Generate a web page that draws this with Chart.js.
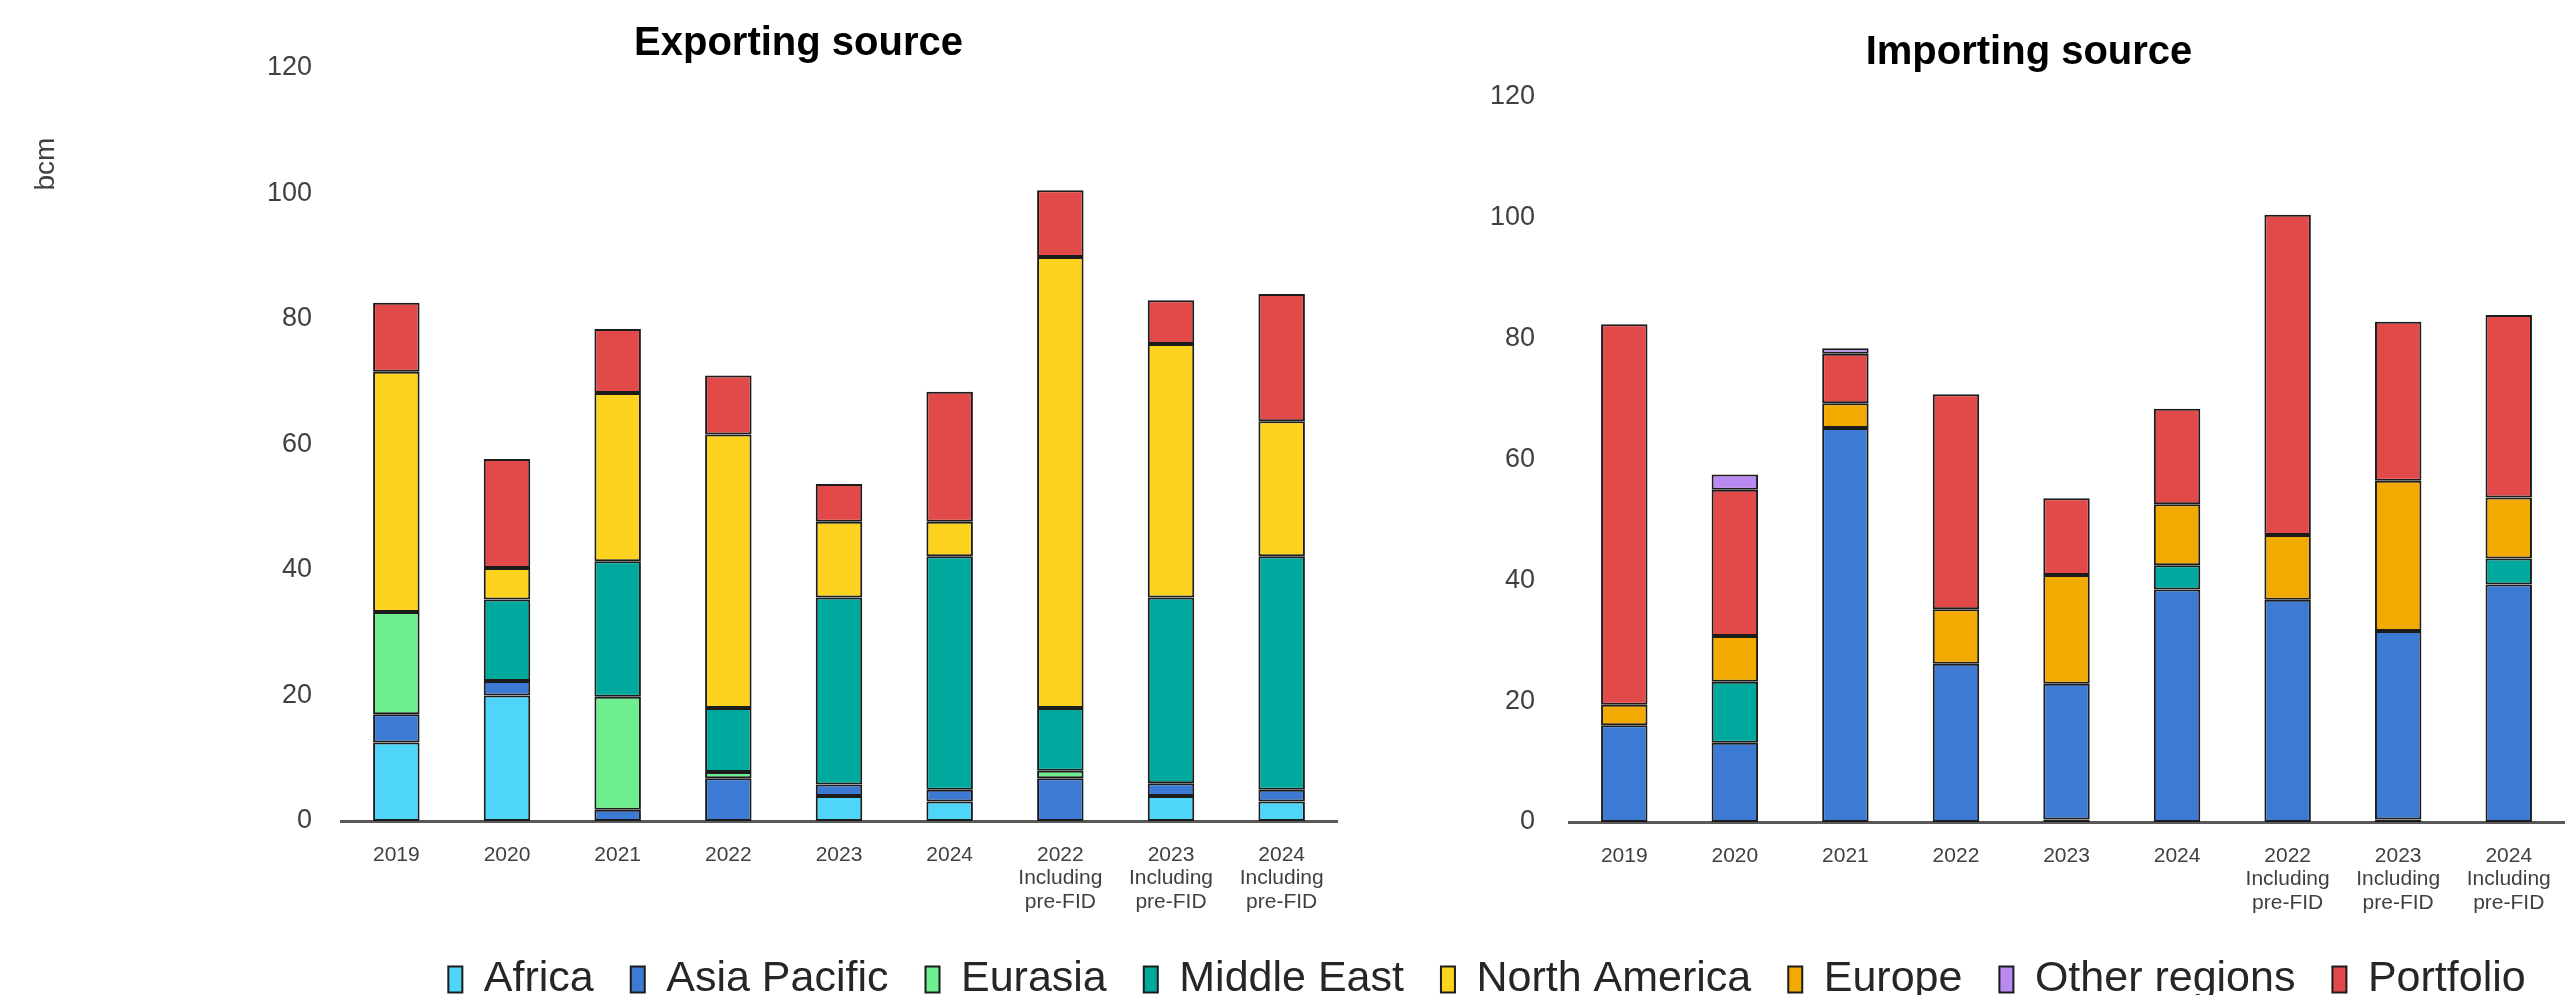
<!DOCTYPE html>
<html>
<head>
<meta charset="utf-8">
<script src="https://cdn.jsdelivr.net/npm/chart.js@4"></script>
<style>
  body { margin: 0; background: #fff; width: 2574px; height: 995px; overflow: hidden; position: relative; }
  canvas { position: absolute; }
  #exportChart { left: 0; top: 0; }
  #importChart { left: 1400px; top: 0; }
  #legendChart { left: 400px; top: 860px; }
</style>
</head>
<body>
<canvas id="exportChart" width="1400" height="930"></canvas>
<canvas id="importChart" width="1174" height="930"></canvas>
<canvas id="legendChart" width="2174" height="250"></canvas>
<script>
// categories on the x axis
const categories = [
  ['2019'], ['2020'], ['2021'], ['2022'], ['2023'], ['2024'],
  ['2022', 'Including', 'pre-FID'], ['2023', 'Including', 'pre-FID'], ['2024', 'Including', 'pre-FID']
];

// legend order
const regions = ['Africa', 'Asia Pacific', 'Eurasia', 'Middle East', 'North America', 'Europe', 'Other regions', 'Portfolio'];
const regionColors = ['#4fd4fa', '#3d7ad4', '#6eee8f', '#00a99d', '#fdd320', '#f2a900', '#b98af2', '#e24a4a'];

// Exporting source (bcm)
const expAfrica       = [12.5, 20.0, 0,    0,    4.0,  3.1,  0,    4.0,  3.1];
const expAsiaPacific  = [4.5,  2.3,  1.8,  6.8,  1.8,  1.9,  6.8,  2.0,  1.9];
const expEurasia      = [16.3, 0,    18.0, 1.0,  0,    0,    1.2,  0,    0];
const expMiddleEast   = [0,    13.0, 21.6, 10.2, 29.8, 37.2, 10.0, 29.6, 37.2];
const expNorthAmerica = [38.3, 5.0,  26.8, 43.6, 12.1, 5.5,  71.9, 40.4, 21.5];
const expPortfolio    = [11.0, 17.4, 10.2, 9.4,  6.0,  20.7, 10.6, 7.0,  20.3];

// Importing source (bcm)
const impAfrica       = [0,    0,    0,    0,    0.4,  0,    0,    0.4,  0];
const impAsiaPacific  = [16.0, 13.1, 65.2, 26.2, 22.5, 38.5, 36.8, 31.2, 39.3];
const impMiddleEast   = [0,    10.1, 0,    0,    0,    4.0,  0,    0,    4.3];
const impEurope       = [3.4,  7.6,  4.1,  9.0,  18.0, 10.1, 10.7, 24.9, 10.1];
const impPortfolio    = [63.0, 24.2, 8.2,  35.6, 12.7, 15.8, 53.0, 26.3, 30.2];
const impOther        = [0,    2.5,  0.9,  0,    0,    0,    0,    0,    0];

const yTicks = [0, 20, 40, 60, 80, 100, 120];

const FONT = "'Liberation Sans', Arial, sans-serif";

function ds(name, values) {
  return {
    label: name,
    data: values,
    backgroundColor: regionColors[regions.indexOf(name)],
    borderColor: '#1c1c1c',
    borderWidth: 2,
    borderSkipped: false,
    barPercentage: 0.42,
    categoryPercentage: 1
  };
}

function barOptions(title, pad, titlePad, xHeight, yWidth, yPad) {
  return {
    responsive: false,
    animation: false,
    devicePixelRatio: 1,
    layout: { padding: pad },
    plugins: {
      legend: { display: false },
      tooltip: { enabled: false },
      title: {
        display: true,
        text: title,
        color: '#000',
        font: { family: FONT, size: 40, weight: 'bold' },
        padding: titlePad
      }
    },
    scales: {
      x: {
        stacked: true,
        grid: { display: false, drawTicks: false },
        border: { color: '#595959', width: 3 },
        ticks: {
          color: '#404040',
          font: { family: FONT, size: 21, lineHeight: 1.1 },
          padding: 23,
          maxRotation: 0,
          autoSkip: false
        },
        afterFit: (s) => { s.height = xHeight; }
      },
      y: {
        stacked: true,
        min: 0,
        max: 120,
        grid: { display: false, drawTicks: false },
        border: { display: false },
        afterBuildTicks: (s) => { s.ticks = yTicks.map(v => ({ value: v })); },
        ticks: {
          color: '#404040',
          font: { family: FONT, size: 27 },
          padding: yPad
        },
        afterFit: (s) => { s.width = yWidth; }
      }
    }
  };
}

// "bcm" unit label on the left
const unitLabel = {
  id: 'unitLabel',
  afterDraw(chart) {
    const ctx = chart.ctx;
    ctx.save();
    ctx.translate(46, 164);
    ctx.rotate(-Math.PI / 2);
    ctx.font = '28px ' + FONT;
    ctx.fillStyle = '#404040';
    ctx.textAlign = 'center';
    ctx.textBaseline = 'middle';
    ctx.fillText('bcm', 0, 0);
    ctx.restore();
  }
};

new Chart(document.getElementById('exportChart'), {
  type: 'bar',
  data: {
    labels: categories,
    datasets: [
      ds('Africa', expAfrica),
      ds('Asia Pacific', expAsiaPacific),
      ds('Eurasia', expEurasia),
      ds('Middle East', expMiddleEast),
      ds('North America', expNorthAmerica),
      ds('Portfolio', expPortfolio)
    ]
  },
  options: barOptions('Exporting source', { left: 260, right: 63, top: 0, bottom: 0 }, { top: 20, bottom: 0 }, 109, 81, 29),
  plugins: [unitLabel]
});

new Chart(document.getElementById('importChart'), {
  type: 'bar',
  data: {
    labels: categories,
    datasets: [
      ds('Africa', impAfrica),
      ds('Asia Pacific', impAsiaPacific),
      ds('Middle East', impMiddleEast),
      ds('Europe', impEurope),
      ds('Portfolio', impPortfolio),
      ds('Other regions', impOther)
    ]
  },
  options: barOptions('Importing source', { left: 88, right: 4, top: 0, bottom: 0 }, { top: 29, bottom: 20 }, 108, 81, 34)
});

// shared legend under both panels
new Chart(document.getElementById('legendChart'), {
  type: 'bar',
  data: {
    labels: [],
    datasets: regions.map((r, i) => ({
      label: r,
      data: [],
      backgroundColor: regionColors[i],
      borderColor: '#1c1c1c',
      borderWidth: 2
    }))
  },
  options: {
    responsive: false,
    animation: false,
    devicePixelRatio: 1,
    layout: { padding: { top: 61 } },
    plugins: {
      tooltip: { enabled: false },
      legend: {
        position: 'top',
        maxHeight: 200,
        labels: {
          boxWidth: 14,
          boxHeight: 26,
          padding: 37,
          color: '#262626',
          font: { family: FONT, size: 43 }
        }
      }
    },
    scales: { x: { display: false }, y: { display: false } }
  }
});
</script>
</body>
</html>
